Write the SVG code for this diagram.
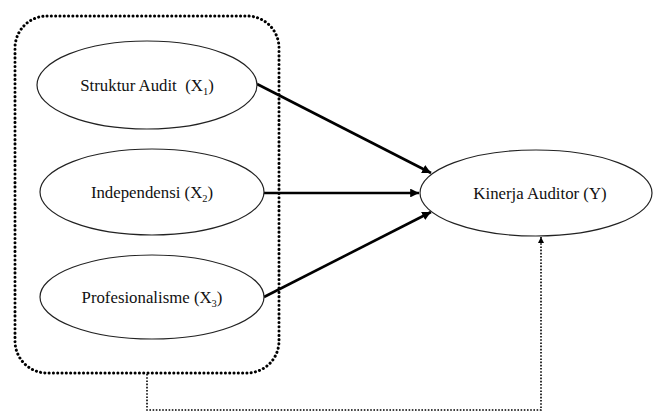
<svg xmlns="http://www.w3.org/2000/svg" width="653" height="412" viewBox="0 0 653 412">
<style>
.node ellipse{fill:#fff;stroke:#222;stroke-width:1.2}
.node text{font-family:"Liberation Serif","Times New Roman",serif;font-size:16.8px;fill:#111;text-anchor:middle;white-space:pre}
.arrow{stroke:#000;stroke-width:2.6;fill:none;marker-end:url(#ah)}
.box{fill:none;stroke:#000;stroke-width:3;stroke-dasharray:0.1 4.2;stroke-linecap:round}
.fb{fill:none;stroke:#000;stroke-width:1.6;stroke-dasharray:1.6 1.6}
</style>
<defs>
<marker id="ah" viewBox="0 0 10 10" refX="10" refY="5" markerWidth="3.6" markerHeight="3.4" markerUnits="strokeWidth" orient="auto">
<path d="M0,0 L10,5 L0,10 z" fill="#000"/>
</marker>
<marker id="ah2" viewBox="0 0 10 10" refX="10" refY="5" markerWidth="4" markerHeight="4" markerUnits="strokeWidth" orient="auto">
<path d="M0,0 L10,5 L0,10 z" fill="#000"/>
</marker>
</defs>
<rect id="group" class="box" x="15" y="16" width="264" height="357" rx="32" ry="32"/>
<g id="connectors">
<line class="arrow" x1="257" y1="84" x2="431" y2="173"/>
<line class="arrow" x1="264" y1="193" x2="419" y2="193"/>
<line class="arrow" x1="264" y1="297" x2="431" y2="212"/>
<polyline class="fb" points="147,374 147,410 541,410 541,237" marker-end="url(#ah2)"/>
</g>
<g id="x1" class="node">
<ellipse cx="147" cy="85" rx="110" ry="44"/>
<text x="147" y="91" xml:space="preserve">Struktur Audit  (X<tspan font-size="10.5" dy="4">1</tspan><tspan dy="-4">)</tspan></text>
</g>
<g id="x2" class="node">
<ellipse cx="152" cy="192" rx="112" ry="43"/>
<text x="152" y="198">Independensi (X<tspan font-size="10.5" dy="4">2</tspan><tspan dy="-4">)</tspan></text>
</g>
<g id="x3" class="node">
<ellipse cx="152" cy="297" rx="112" ry="42"/>
<text x="152" y="303">Profesionalisme (X<tspan font-size="10.5" dy="4">3</tspan><tspan dy="-4">)</tspan></text>
</g>
<g id="y" class="node">
<ellipse cx="536" cy="193" rx="116" ry="43"/>
<text x="540" y="199">Kinerja Auditor (Y)</text>
</g>
</svg>
